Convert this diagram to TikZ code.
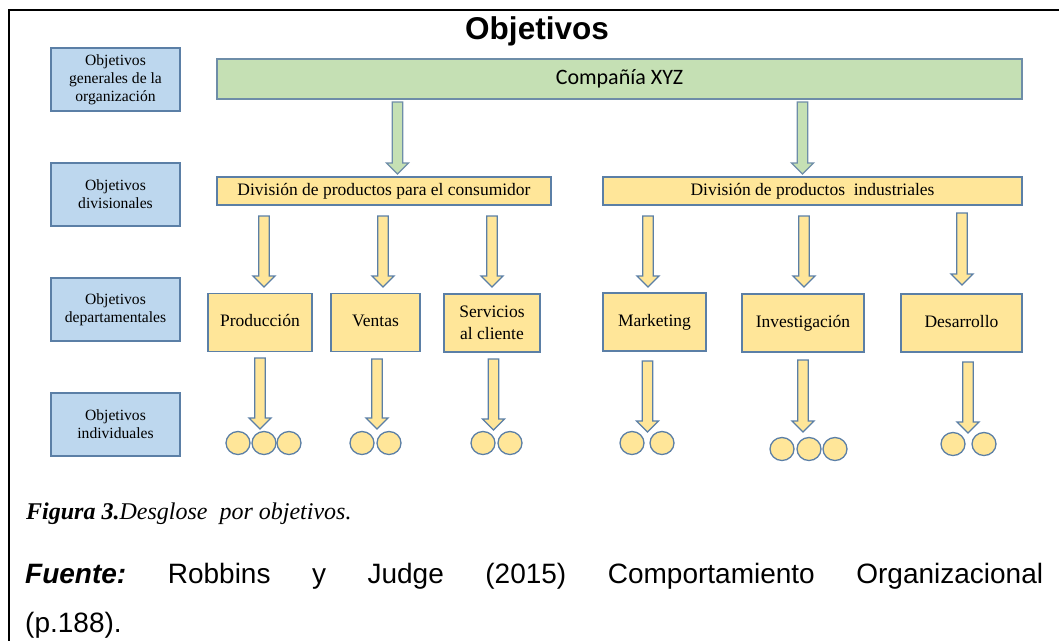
\documentclass[tikz,border=0pt]{standalone}
\usepackage{fontspec}
\setmainfont{Liberation Serif}
\newfontfamily\arialf{Liberation Sans}
\newfontfamily\calibrif{Carlito}
\usetikzlibrary{shapes.geometric}
\definecolor{bluefill}{HTML}{BDD7EE}
\definecolor{yellowfill}{HTML}{FFE699}
\definecolor{greenfill}{HTML}{C5E0B4}
\definecolor{edgeblue}{HTML}{5B7FA6}
\definecolor{edgegreen}{HTML}{6E8DA8}
\tikzset{
  bluebox/.style={draw=edgeblue, fill=bluefill, line width=1.5pt, rectangle, inner sep=0pt,
    minimum width=129pt, minimum height=63pt, align=center,
    font=\fontsize{15.6}{18}\selectfont},
  deptbase/.style={draw=edgeblue, fill=yellowfill, line width=1.5pt, rectangle, inner sep=0pt,
    minimum height=58pt, align=center, font=\fontsize{17.5}{22}\selectfont},
  deptbox/.style={deptbase, text height=12pt, text depth=4pt},
  divbox/.style={draw=edgeblue, fill=yellowfill, line width=1.5pt, rectangle, inner sep=0pt,
    minimum height=28pt, text height=12pt, text depth=4pt, font=\fontsize{17.5}{21}\selectfont},
  topbox/.style={draw=edgegreen, fill=greenfill, line width=1.5pt, rectangle, inner sep=0pt,
    minimum height=40pt, text height=15pt, text depth=5pt, font=\calibrif\fontsize{22}{26}\selectfont},
  yarrow/.style={draw=edgeblue, fill=yellowfill, line width=1.3pt, line join=miter},
  garrow/.style={draw=edgegreen, fill=greenfill, line width=1.3pt, line join=miter},
  person/.style={draw=edgeblue, fill=yellowfill, line width=1.3pt, ellipse, inner sep=0pt,
    minimum width=24pt, minimum height=23pt},
  frameline/.style={line width=2.3pt, black}
}
% block arrow: style, x centre, top y, tip y
\newcommand\blockarrow[4]{%
  \draw[#1] (#2-5.3,#3) -- (#2+5.3,#3) -- (#2+5.3,#4-11) -- (#2+11,#4-11) -- (#2,#4)
    -- (#2-11,#4-11) -- (#2-5.3,#4-11) -- cycle;}
\begin{document}
\begin{tikzpicture}[x=1pt,y=-1pt]
\useasboundingbox (0,0) rectangle (1059,641);
% frame
\coordinate (fa) at (8,10);
\coordinate (fb) at (1059,10);
\coordinate (fc) at (9,641);
\draw[frameline] (fb) -- (fa -| fc) -- (fc);
% title
\node[anchor=base, inner sep=0pt, font=\arialf\bfseries\fontsize{31.5}{36}\selectfont] (title) at (537,39) {Objetivos};
% level labels
\node[bluebox] (l1) at (115.5,79.5) {Objetivos\\generales de la\\organización};
\node[bluebox] (l2) at (115.5,194.5) {Objetivos\\divisionales};
\node[bluebox] (l3) at (115.5,309.5) {Objetivos\\departamentales};
\node[bluebox] (l4) at (115.5,424.5) {Objetivos\\individuales};
% company
\node[topbox, minimum width=805pt] (co) at (619.5,79) {Compañía XYZ};
% divisions
\node[divbox, minimum width=334pt] (d1) at (384,191) {División\ de\ productos\ para\ el\ consumidor};
\node[divbox, minimum width=419pt] (d2) at (812.5,191) {División\ de\ productos\ \ industriales};
% departments
\node[deptbox, minimum width=104pt] (p1) at (260,322.5) {Producción};
\node[deptbox, minimum width=89pt] (p2) at (375.5,322.5) {Ventas};
\node[deptbase, minimum width=96pt] (p3) at (492,323) {Servicios\\al cliente};
\node[deptbox, minimum width=103pt] (p4) at (654.5,322) {Marketing};
\node[deptbox, minimum width=122pt] (p5) at (803,323) {Investigación};
\node[deptbox, minimum width=121pt] (p6) at (961.5,323) {Desarrollo};
% green arrows
\blockarrow{garrow}{397.5}{102}{174}
\blockarrow{garrow}{802.5}{102}{174}
% arrows into departments
\blockarrow{yarrow}{264}{216}{287}
\blockarrow{yarrow}{383}{216}{287}
\blockarrow{yarrow}{492}{216}{287}
\blockarrow{yarrow}{648}{216}{287}
\blockarrow{yarrow}{804}{216}{287}
\blockarrow{yarrow}{962}{213}{285}
% arrows to individuals
\blockarrow{yarrow}{260}{358}{429}
\blockarrow{yarrow}{377}{359}{429}
\blockarrow{yarrow}{493.5}{359}{430}
\blockarrow{yarrow}{647.5}{361}{432}
\blockarrow{yarrow}{803}{360}{432}
\blockarrow{yarrow}{968}{362}{433}
% individuals
\node[person] (i1a) at (238,443) {};
\node[person] (i1b) at (264,443) {};
\node[person] (i1c) at (289,443) {};
\node[person] (i2a) at (362,443) {};
\node[person] (i2b) at (389,443) {};
\node[person] (i3a) at (483,443) {};
\node[person] (i3b) at (510,443) {};
\node[person] (i4a) at (632,443) {};
\node[person] (i4b) at (662,443) {};
\node[person] (i5a) at (782,449) {};
\node[person] (i5b) at (809,449) {};
\node[person] (i5c) at (835,449) {};
\node[person] (i6a) at (953,444) {};
\node[person] (i6b) at (984,444) {};
% caption
\node[anchor=base west, inner sep=0pt, font=\fontsize{24}{28}\selectfont] (cap) at (26,519)
  {\textbf{\textit{Figura 3.}}\textit{Desglose\ \ por objetivos.}};
\node[anchor=base west, inner sep=0pt, font=\arialf\fontsize{28}{32}\selectfont] (src1) at (25,583)
  {\frenchspacing\makebox[1018pt][s]{\textbf{\textit{Fuente:}} Robbins y Judge (2015) Comportamiento Organizacional}};
\node[anchor=base west, inner sep=0pt, font=\arialf\fontsize{28}{32}\selectfont] (src2) at (25,632) {(p.188).};
\end{tikzpicture}
\end{document}
